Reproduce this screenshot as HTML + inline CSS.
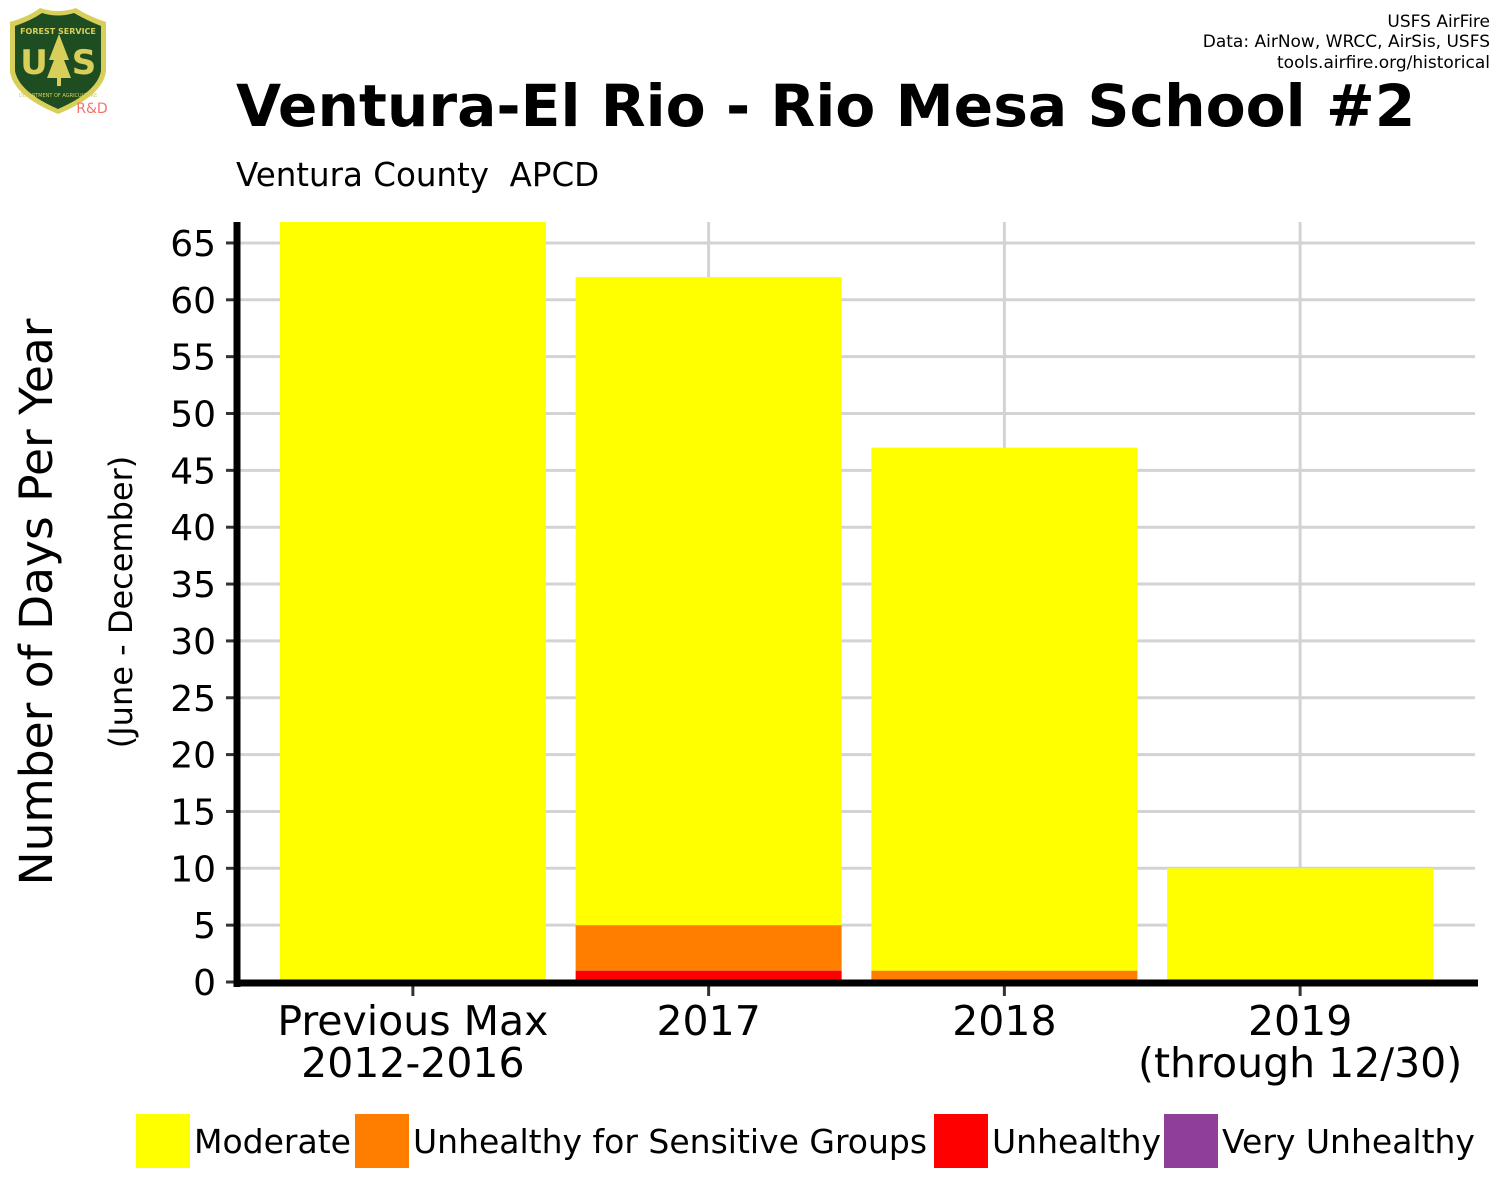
<!DOCTYPE html>
<html><head><meta charset="utf-8"><style>
body{margin:0;background:#fff;width:1500px;height:1200px;overflow:hidden;font-family:"DejaVu Sans","Liberation Sans",sans-serif}
</style></head><body>
<svg id="chart" width="1500" height="1200" xmlns="http://www.w3.org/2000/svg" font-family="DejaVu Sans, Liberation Sans, sans-serif">
<g>
<path d="M10,22 Q30,16 40,8 Q58,14 76,8 Q88,16 106,22 L106,72 Q102,96 58,114 Q14,96 10,72 Z" fill="#d8cf5a"/>
<path d="M15,26 Q32,20 42,13 Q58,18 74,13 Q86,20 101,26 L101,71 Q97,92 58,109 Q19,92 15,71 Z" fill="#1f4d22"/>
<text x="58" y="34" font-size="8" fill="#d8cf5a" text-anchor="middle" font-weight="bold">FOREST SERVICE</text>
<text x="34" y="74" font-size="34" fill="#d8cf5a" text-anchor="middle" font-weight="bold">U</text>
<text x="84" y="74" font-size="34" fill="#d8cf5a" text-anchor="middle" font-weight="bold">S</text>
<path d="M59,34 L49,60 L54,60 L47,78 L71,78 L64,60 L69,60 Z" fill="#d8cf5a"/>
<rect x="57" y="78" width="4" height="8" fill="#d8cf5a"/>
<text x="58" y="97" font-size="5" fill="#d8cf5a" text-anchor="middle">DEPARTMENT OF AGRICULTURE</text>
<text x="92" y="113" font-size="14" fill="#f4736a" text-anchor="middle">R&amp;D</text>
</g>
<text x="1490" y="27" font-size="17" text-anchor="end">USFS AirFire</text>
<text x="1490" y="47" font-size="17" text-anchor="end">Data: AirNow, WRCC, AirSis, USFS</text>
<text x="1490" y="68" font-size="17" text-anchor="end">tools.airfire.org/historical</text>
<text x="236" y="126" font-size="58.3" font-weight="bold">Ventura-El Rio - Rio Mesa School #2</text>
<text x="236" y="186" font-size="32.5" style="white-space:pre">Ventura County  APCD</text>
<text transform="translate(52,602) rotate(-90)" font-size="45.5" text-anchor="middle">Number of Days Per Year</text>
<text transform="translate(132,602) rotate(-90)" font-size="32" text-anchor="middle">(June - December)</text>
<g id="grid"></g><g id="bars"></g><g id="axes"></g>
<g font-size="33">
<rect x="136" y="1114" width="54" height="54" fill="#ffff00"/>
<text x="194" y="1153">Moderate</text>
<rect x="355" y="1114" width="54" height="54" fill="#ff7e00"/>
<text x="413" y="1153">Unhealthy for Sensitive Groups</text>
<rect x="934" y="1114" width="54" height="54" fill="#ff0000"/>
<text x="992" y="1153">Unhealthy</text>
<rect x="1164" y="1114" width="54" height="54" fill="#8f3f97"/>
<text x="1222" y="1153">Very Unhealthy</text>
</g>
</svg>
<script>
const categories=["Previous Max\n2012-2016","2017","2018","2019\n(through 12/30)"];
const unhealthy=[0,1,0,0];
const usg=[0,4,1,0];
const moderate=[67,57,46,10];
const veryUnhealthy=[0,0,0,0];
const yTicks=[0,5,10,15,20,25,30,35,40,45,50,55,60,65];
const NS="http://www.w3.org/2000/svg";
const X0=237,X1=1475,B0=265,B1=1448,Y0=982,YTOP=222,UNIT=11.37;
const y=v=>Y0-v*UNIT;
const step=(B1-B0)/categories.length;
const xc=i=>B0+step*(i+0.5);
const bw=266;
function mk(t,a,p){const e=document.createElementNS(NS,t);for(const k in a)e.setAttribute(k,a[k]);p.appendChild(e);return e;}
const grid=document.getElementById('grid'),bars=document.getElementById('bars'),axes=document.getElementById('axes');
yTicks.forEach(v=>{
 const l=mk('line',{x1:X0,x2:X1,y1:y(v),y2:y(v),stroke:'#d3d3d3','stroke-width':3},grid);
 
 
 const t=mk('line',{x1:226,x2:237,y1:y(v),y2:y(v),stroke:'#333','stroke-width':3},axes);
 
 
 const tx=mk('text',{x:216,y:y(v)+13,'font-size':36,'text-anchor':'end'},axes);tx.textContent=v;
 
 
});
categories.forEach((c,i)=>{
 const g=mk('line',{x1:xc(i),x2:xc(i),y1:YTOP,y2:Y0,stroke:'#d3d3d3','stroke-width':3},grid);
 
 
 let base=0;
 [[unhealthy,'#ff0000','unhealthy'],[usg,'#ff7e00','usg'],[moderate,'#ffff00','moderate'],[veryUnhealthy,'#8f3f97','very-unhealthy']].forEach(([arr,col,nm])=>{
  const v=arr[i];if(!v)return;
  const top=Math.max(y(base+v),YTOP);
  const r=mk('rect',{x:xc(i)-bw/2,y:top,width:bw,height:y(base)-top,fill:col},bars);
  
  
  base+=v;
 });
 const t=mk('line',{x1:xc(i),x2:xc(i),y1:Y0,y2:996,stroke:'#333','stroke-width':3},axes);
 
 
 c.split('\n').forEach((ln,k)=>{
  const tx=mk('text',{x:xc(i),y:1035+k*42,'font-size':41,'text-anchor':'middle'},axes);tx.textContent=ln;
  
  
 });
});
const ya=mk('line',{x1:X0,x2:X0,y1:YTOP,y2:Y0+5,stroke:'#000','stroke-width':7},axes);


const xa=mk('line',{x1:X0-3,x2:X1+3,y1:Y0+1,y2:Y0+1,stroke:'#000','stroke-width':7},axes);


</script>
</body></html>
